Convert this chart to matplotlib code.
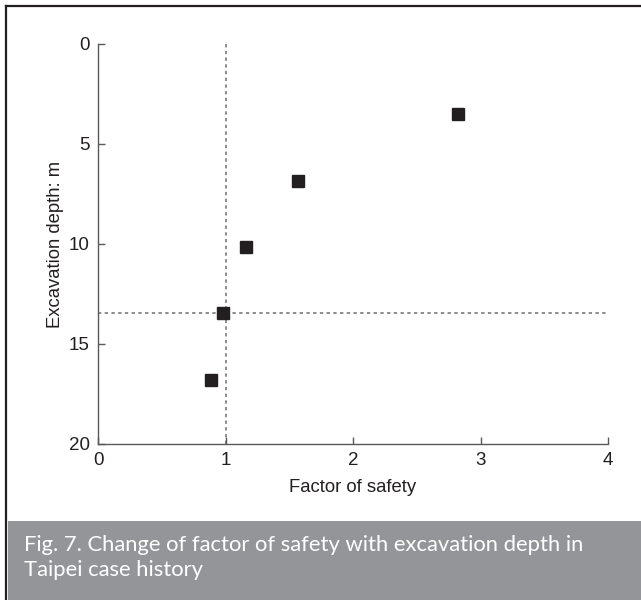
import matplotlib.pyplot as plt
from matplotlib.lines import Line2D
from matplotlib.patches import Rectangle

# Data
factor_of_safety = [2.82, 1.57, 1.16, 0.98, 0.89]
excavation_depth = [3.5, 6.83, 10.13, 13.43, 16.8]
x_ticks = [0, 1, 2, 3, 4]
y_ticks = [0, 5, 10, 15, 20]
fs_limit = 1.0
critical_depth = 13.43

plt.rcParams['font.family'] = ['Liberation Sans', 'DejaVu Sans']

fig = plt.figure(figsize=(6.41, 6.00), dpi=100)
ax = fig.add_axes([98 / 641, 1 - 444 / 600, 510 / 641, 400 / 600])

# Reference lines
ax.axvline(fs_limit, color='#6d6e71', lw=1.1, ls=(0, (2.2, 2.2)), zorder=1)
ax.axhline(critical_depth, color='#6d6e71', lw=1.1, ls=(0, (2.2, 2.2)), zorder=1)

# Points
ax.plot(factor_of_safety, excavation_depth, 's', color='#231f20',
        markersize=8, markeredgecolor='#231f20', zorder=3)

ax.set_xlim(0, 4)
ax.set_ylim(20, 0)
ax.set_xticks(x_ticks)
ax.set_yticks(y_ticks)
ax.tick_params(direction='in', length=5, width=1, color='#58595b',
               labelsize=13.5, labelcolor='#231f20', pad=6)
for side in ['top', 'right']:
    ax.spines[side].set_visible(False)
for side in ['left', 'bottom']:
    ax.spines[side].set_color('#58595b')
    ax.spines[side].set_linewidth(1)

ax.set_xlabel('Factor of safety', fontsize=13.3, color='#231f20', labelpad=7)
ax.set_ylabel('Excavation depth: m', fontsize=13.3, color='#231f20', labelpad=3)

# Frame and caption box
fig.add_artist(Rectangle((8 / 641, 0), 1, 79 / 600, transform=fig.transFigure,
                         facecolor='#939598', edgecolor='none'))
fig.add_artist(Line2D([6 / 641, 6 / 641], [0, 1 - 6 / 600], color='#231f20',
                      lw=1.6, transform=fig.transFigure))
fig.add_artist(Line2D([6 / 641, 1], [1 - 6 / 600, 1 - 6 / 600], color='#231f20',
                      lw=1.6, transform=fig.transFigure))
fig.text(24 / 641, 1 - 535 / 600,
         'Fig. 7. Change of factor of safety with excavation depth in\nTaipei case history',
         family=['Lato', 'DejaVu Sans'], fontsize=15.8, color='white',
         va='top', ha='left', linespacing=1.3)

fig.savefig('out.png', dpi=100)
